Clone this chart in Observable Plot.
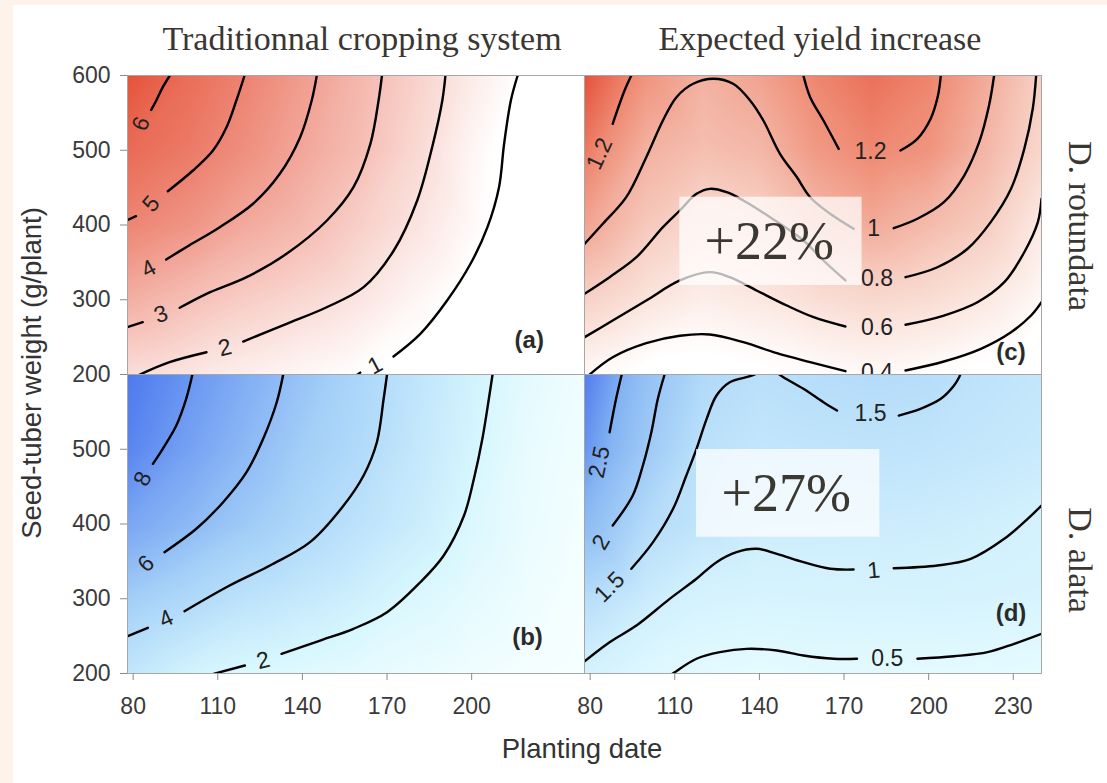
<!DOCTYPE html>
<html>
<head>
<meta charset="utf-8">
<script src="https://cdn.jsdelivr.net/npm/d3@7"></script>
<script src="https://cdn.jsdelivr.net/npm/@observablehq/plot@0.6"></script>
<style>
html,body{margin:0;padding:0;}
body{width:1107px;height:783px;background:#fdf3ea;position:relative;overflow:hidden;font-family:"Liberation Sans",Arial,sans-serif;}
#sheet{position:absolute;left:13px;top:5px;right:0;bottom:0;background:#fff;}
.pan{position:absolute;}
.serif{position:absolute;font-family:"Liberation Serif","Times New Roman",serif;font-size:34px;line-height:1;color:#3a3632;white-space:nowrap;}
.sans{position:absolute;font-family:"Liberation Sans",Arial,sans-serif;font-size:27.5px;line-height:1;color:#333;white-space:nowrap;}
</style>
</head>
<body>
<div id="sheet"></div>
<div class="serif" style="left:362px;top:22px;transform:translateX(-50%);">Traditionnal cropping system</div>
<div class="serif" style="left:820px;top:22px;transform:translateX(-50%);">Expected yield increase</div>
<div class="serif" style="left:1080px;top:226px;transform:translate(-50%,-50%) rotate(90deg);">D. rotundata</div>
<div class="serif" style="left:1080px;top:560px;transform:translate(-50%,-50%) rotate(90deg);">D. alata</div>
<div class="sans" style="left:32px;top:373px;transform:translate(-50%,-50%) rotate(-90deg);">Seed-tuber weight (g/plant)</div>
<div class="sans" style="left:582px;top:735px;transform:translateX(-50%);">Planting date</div>
<div id="pa" class="pan" style="left:125px;top:73px;"></div>
<div id="pb" class="pan" style="left:125px;top:372px;"></div>
<div id="pc" class="pan" style="left:582px;top:73px;"></div>
<div id="pd" class="pan" style="left:582px;top:372px;"></div>
<script>
// ---------- shared axes ----------
const xDomain = [78, 240];
const yDomain = [200, 600];
const xTicksLeft = [80, 110, 140, 170, 200];
const xTicksRight = [80, 110, 140, 170, 200, 230];
const yTicksTop = [200, 300, 400, 500, 600];
const yTicksBottom = [200, 300, 400, 500];

// ---------- value grids ----------
const gridDates = [78, 100, 120, 140, 160, 180, 200, 220, 240];
const gridWeights = [600, 500, 400, 300, 200];

const aGrid = [
  [6.6, 5.7, 5.0, 4.2, 3.35, 2.5, 1.65, 0.9, 0.5],
  [5.8, 5.3, 4.6, 3.85, 3.15, 2.25, 1.3, 0.6, 0.4],
  [4.95, 4.45, 3.75, 3.25, 2.55, 1.9, 1.2, 0.6, 0.35],
  [3.6, 3.05, 2.6, 2.25, 1.85, 1.3, 0.8, 0.45, 0.3],
  [2.1, 1.8, 1.5, 1.25, 1.0, 0.8, 0.5, 0.3, 0.2]
];
const bGrid = [
  [9.5, 8.05, 6.8, 5.65, 4.55, 3.45, 2.4, 1.4, 0.9],
  [8.9, 7.4, 6.2, 5.1, 4.25, 3.2, 2.2, 1.2, 0.8],
  [7.2, 6.2, 5.3, 4.4, 3.6, 2.8, 1.85, 1.1, 0.7],
  [5.1, 4.3, 3.55, 3.05, 2.5, 1.85, 1.35, 0.9, 0.6],
  [3.3, 2.3, 1.85, 1.6, 1.35, 1.1, 0.85, 0.65, 0.5]
];
const cGrid = [
  [1.42, 1.15, 0.99, 1.07, 1.22, 1.3, 1.23, 1.03, 0.79],
  [1.27, 0.99, 0.9, 0.95, 1.12, 1.21, 1.15, 0.96, 0.73],
  [1.07, 0.84, 0.72, 0.76, 0.94, 1.03, 0.93, 0.82, 0.56],
  [0.78, 0.62, 0.52, 0.58, 0.66, 0.72, 0.68, 0.58, 0.41],
  [0.41, 0.3, 0.28, 0.32, 0.37, 0.4, 0.37, 0.3, 0.22]
];
const dGrid = [
  [3.1, 2.2, 1.65, 1.49, 1.56, 1.6, 1.56, 1.4, 1.3],
  [2.85, 2.0, 1.45, 1.3, 1.35, 1.38, 1.35, 1.28, 1.2],
  [2.35, 1.6, 1.35, 1.15, 1.15, 1.14, 1.12, 1.05, 0.95],
  [1.55, 1.15, 0.88, 0.82, 0.85, 0.86, 0.88, 0.85, 0.82],
  [0.95, 0.6, 0.45, 0.38, 0.44, 0.45, 0.42, 0.43, 0.38]
];

// ---------- contour lines (date, weight) ----------
const aLines = [
  [[93,600],[90.5,584.4],[88.2,566.6],[86.4,554.1]],
  [[119.5,600],[116.6,566.6],[113.1,530.8],[108.3,499.7],[101.2,472.9],[92.3,445.2]],
  [[81.0,411.8],[77.6,406]],
  [[145.1,600],[143.3,566.6],[139.2,517.5],[132.0,468.5],[122.5,428.4],[110.7,397.1],[98.8,370.3],[91.7,353.8]],
  [[168.2,600],[167.0,566.6],[164.1,508.6],[158.1,450.6],[148.7,406.0],[134.4,361.5],[120.2,330.2],[106.0,307.9],[96.5,289.2]],
  [[83.4,270.0],[77.6,263]],
  [[190.7,600],[189.6,566.6],[186.0,504.1],[180.7,432.8],[172.4,365.9],[161.7,316.8],[148.6,290.0],[134.4,267.8],[119.0,244.1]],
  [[106.0,229.8],[92.9,216.5],[82.2,199.6]],
  [[216.3,600],[213.9,566.6],[211.5,508.6],[209.7,450.6],[205.6,397.1],[199.6,348.1],[191.3,299.0],[181.8,254.4],[172.3,224.1]],
  [[160.5,202.5],[159.2,199]]
];
const aLabels = [
  {t:"6", d:82.8, w:535.4, r:-68},
  {t:"5", d:86.4, w:428.4, r:-50},
  {t:"4", d:85.5, w:341.4, r:-28},
  {t:"3", d:89.9, w:280.3, r:-20},
  {t:"2", d:112.5, w:235.7, r:-14},
  {t:"1", d:165.8, w:212.0, r:-28}
];

const bLines = [
  [[101,600],[98.8,567.5],[95.3,531.8],[90.5,500.6],[87.0,480.5]],
  [[133.2,600],[130.9,562.9],[126.1,514.0],[120.2,469.3],[111.9,429.2],[102.4,393.6],[91.1,362.3]],
  [[170.0,600],[168.8,567.5],[166.4,509.4],[161.7,464.9],[154.6,424.7],[142.7,375.7],[128.5,344.5],[114.2,317.7],[98.2,283.3]],
  [[85.2,261.1],[78.1,249.9]],
  [[207.4,600],[206.1,567.5],[203.8,514.0],[200.8,460.5],[197.3,411.4],[190.1,357.9],[181.8,322.1],[170.0,282.0],[158.1,259.8],[146.3,244.1],[132.6,226.3]],
  [[119.6,210.7],[108.5,199.5]]
];
const bLabels = [
  {t:"8", d:83.4, w:460.5, r:-65},
  {t:"6", d:84.6, w:346.7, r:-42},
  {t:"4", d:91.7, w:273.2, r:-25},
  {t:"2", d:126.1, w:217.4, r:-14}
];

const cLines = [
  [[94.6,600],[92.2,579.9],[88.0,535.4]],
  [[155.6,600],[158.0,571.0],[162.7,539.8],[168.1,501.9]],
  [[190.0,499.7],[196.0,515.3],[200.7,542.1],[203.3,573.2],[204.3,600]],
  [[77.6,373],[84.5,401.6],[92.8,437.2],[99.9,490.7],[105.8,539.8],[110.6,571.0],[116.5,588.9],[123.6,595.6],[130.7,588.9],[136.7,566.6],[141.4,539.8],[147.3,495.3],[153.3,463.9],[158.0,437.2],[165.1,415.0],[173.4,394.9]],
  [[187.6,395.7],[196.0,408.3],[205.4,430.5],[212.6,466.2],[217.9,510.8],[221.4,559.9],[223.2,600]],
  [[77.6,307],[86.9,330.2],[96.4,356.9],[105.8,397.1],[111.8,419.4],[117.7,441.7],[122.4,448.4],[128.4,443.9],[134.3,432.8],[143.8,410.4],[155.6,379.3],[162.7,352.5],[170.5,325.8]],
  [[191.8,330.2],[203.1,343.5],[213.8,368.2],[222.0,403.8],[229.2,448.4],[233.9,501.9],[236.9,555.5],[238.1,600]],
  [[77.6,249],[88.0,272.2],[99.9,299.0],[111.8,325.8],[122.4,336.9],[129.5,330.2],[139.0,312.4],[149.7,292.3],[159.2,276.7],[170.5,264.2]],
  [[191.8,266.5],[205.4,278.9],[217.3,296.7],[226.8,323.5],[233.9,363.6],[238.7,403.8],[240,435.0]],
  [[79.7,199.6],[88.0,223.1],[99.9,241.9],[111.8,251.8],[122.4,253.5],[134.3,243.2],[146.2,228.5],[158.0,216.5],[170.5,204.4]],
  [[191.8,205.4],[205.4,217.4],[218.5,234.4],[229.2,256.6],[236.3,278.9],[240,296.7]]
];
const cLabels = [
  {t:"1.2", d:83.3, w:495.3, r:-65},
  {t:"1.2", d:179.4, w:498.7, r:0},
  {t:"1", d:180.5, w:395.5, r:0},
  {t:"0.8", d:181.7, w:328.0, r:0},
  {t:"0.6", d:181.7, w:263.3, r:0},
  {t:"0.4", d:181.7, w:203.1, r:0}
];

const dLines = [
  [[91.2,600],[89.2,567.5],[86.9,522.8]],
  [[106.4,600],[104.0,567.5],[101.7,522.8],[98.7,478.3],[95.1,438.1],[88.0,398.0]],
  [[94.6,340.1],[102.3,375.7],[109.4,420.3],[114.1,464.9],[117.7,500.6],[121.3,540.7],[124.8,571.9],[129.5,589.7],[136.7,597.7],[140,603]],
  [[146,603],[148.5,596.4],[155.6,580.9],[162.7,562.9],[167.5,551.8]],
  [[189.4,545.1],[197.1,554.1],[204.3,567.5],[209.0,585.3],[210.8,596.4],[211.5,603]],
  [[77.6,215.1],[86.9,241.9],[96.4,264.2],[108.2,299.9],[117.7,326.7],[124.8,348.9],[131.9,362.3],[139.0,366.8],[146.2,360.1],[155.6,348.9],[165.1,340.1],[173.4,339.1]],
  [[187.6,340.9],[203.1,344.5],[214.9,353.4],[226.8,380.2],[235.1,406.9],[240,424.7]],
  [[108.6,198],[110.0,201.7],[117.7,219.7],[126.0,228.5],[135.5,233.0],[146.2,230.8],[155.6,224.1],[166.3,219.7],[174.6,219.7]],
  [[196.0,219.7],[209.0,223.1],[220.9,228.5],[230.3,239.7],[240,253.1]]
];
const dLabels = [
  {t:"2.5", d:83.3, w:482.7, r:-78},
  {t:"2", d:83.9, w:375.7, r:-60},
  {t:"1.5", d:86.9, w:315.5, r:-45},
  {t:"1.5", d:179.4, w:547.4, r:0},
  {t:"1", d:180.5, w:337.8, r:-5},
  {t:"0.5", d:185.3, w:219.7, r:0}
];

// ---------- annotations ----------
const panelTags = [
  {t:"(a)", d:220.4, w:245.5},
  {t:"(b)", d:219.8, w:248.6},
  {t:"(c)", d:229.2, w:229.8},
  {t:"(d)", d:229.2, w:279.9}
];
const gainBoxes = [
  {t:"+22%", d1:111.8, d2:176.4, w1:319.1, w2:437.2, td:143.5, tw:377.0},
  {t:"+27%", d1:117.7, d2:182.7, w1:382.3, w2:499.7, td:149.5, tw:440.4}
];

// ---------- colour ramps ----------
const redLow = {domain:[1, 7], range:["#ffffff", "#e4462b"]};
const blueLow = {domain:[0.5, 2, 5, 10], range:["#f7ffff", "#d8f7fe", "#a4d0f8", "#4470ee"]};
const redGain = {domain:[0.35, 0.6, 0.8, 1.0, 1.2, 1.42], range:["#ffffff", "#fbe6df", "#f7cfc3", "#f3b09f", "#ef8b74", "#e6513a"]};
const blueGain = {domain:[0.4, 1.0, 1.5, 2.5, 3.2], range:["#e4fbff", "#d2f1fd", "#b9dffa", "#84b4f3", "#4a74ee"]};

function panel({grid, lines, labels, ramp, tag, box, xTicks, yTicks}) {
  const pts = [];
  gridWeights.forEach((w, i) => gridDates.forEach((d, j) => pts.push({d, w, v: grid[i][j]})));
  const lineData = lines.flatMap((l, k) => l.map(([d, w]) => ({d, w, k})));
  const marks = [
    Plot.raster(pts, {x:"d", y:"w", fill:"v", interpolate:"barycentric", x1:78, x2:240, y1:200, y2:600}),
    Plot.line(lineData, {x:"d", y:"w", z:"k", curve:"catmull-rom", stroke:"#000", strokeWidth:2.4, clip:true}),
    Plot.text(labels, {x:"d", y:"w", text:"t", rotate:"r", fontSize:23, fill:"#222", clip:true})
  ];
  if (box) {
    marks.push(Plot.rect([box], {x1:"d1", x2:"d2", y1:"w1", y2:"w2", fill:"#ffffff", fillOpacity:0.72}));
    marks.push(Plot.text([box], {x:"td", y:"tw", text:"t", fontSize:54, fontFamily:"Liberation Serif, Times New Roman, serif", fill:"#3b3832"}));
  }
  marks.push(Plot.text([tag], {x:"d", y:"w", text:"t", fontSize:24, fontWeight:"bold", fill:"#2a2a2a"}));
  marks.push(Plot.frame({stroke:"#a6a6a6"}));
  if (yTicks) marks.push(Plot.axisY({ticks:yTicks, tickSize:7, tickPadding:10, fontSize:23, stroke:"#8a8a8a", fill:"#3a3a3a", label:null}));
  if (xTicks) marks.push(Plot.axisX({ticks:xTicks, tickSize:7, tickPadding:17, fontSize:23, stroke:"#8a8a8a", fill:"#3a3a3a", label:null}));
  return Plot.plot({
    width:461, height:303,
    marginLeft:2, marginRight:2, marginTop:2, marginBottom:2,
    x:{domain:xDomain, axis:null},
    y:{domain:yDomain, axis:null},
    color:{type:"linear", domain:ramp.domain, range:ramp.range, clamp:true},
    style:{background:"transparent", overflow:"visible", fontFamily:"Liberation Sans, Arial, sans-serif", color:"#3a3a3a"},
    marks
  });
}

document.getElementById("pa").append(panel({grid:aGrid, lines:aLines, labels:aLabels, ramp:redLow, tag:panelTags[0], yTicks:yTicksTop}));
document.getElementById("pb").append(panel({grid:bGrid, lines:bLines, labels:bLabels, ramp:blueLow, tag:panelTags[1], yTicks:yTicksBottom, xTicks:xTicksLeft}));
document.getElementById("pc").append(panel({grid:cGrid, lines:cLines, labels:cLabels, ramp:redGain, tag:panelTags[2], box:gainBoxes[0]}));
document.getElementById("pd").append(panel({grid:dGrid, lines:dLines, labels:dLabels, ramp:blueGain, tag:panelTags[3], box:gainBoxes[1], xTicks:xTicksRight}));
</script>
</body>
</html>
